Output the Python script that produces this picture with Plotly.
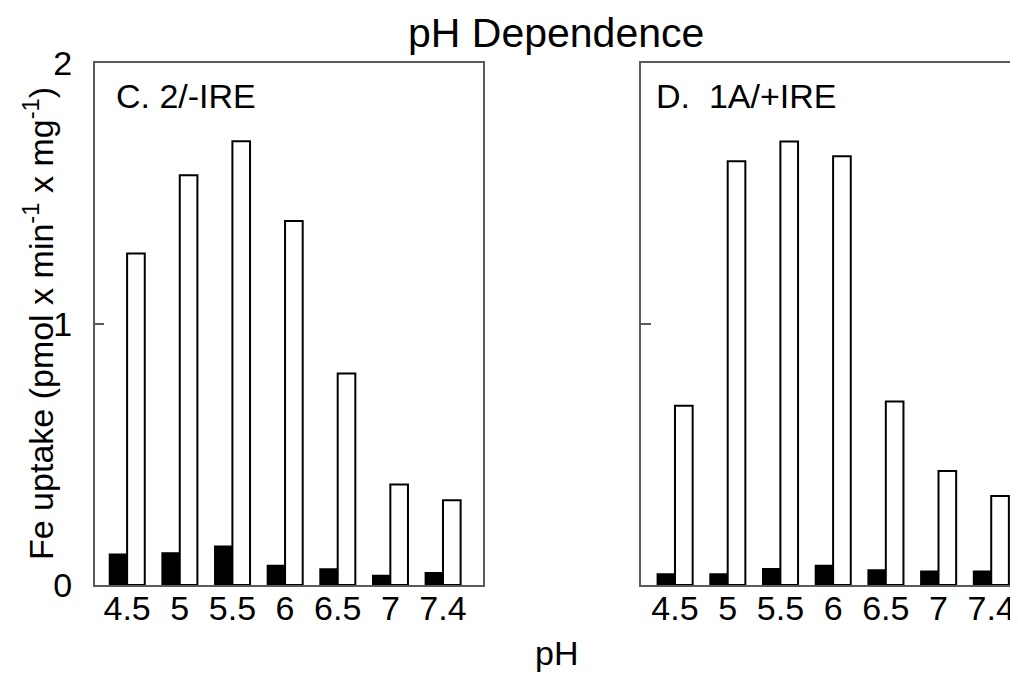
import plotly.graph_objects as go

ph_labels = ["4.5", "5", "5.5", "6", "6.5", "7", "7.4"]
c_black = [0.118, 0.123, 0.148, 0.075, 0.061, 0.036, 0.047]
c_white = [1.27, 1.57, 1.70, 1.395, 0.81, 0.385, 0.325]
d_black = [0.042, 0.042, 0.062, 0.075, 0.057, 0.053, 0.053]
d_white = [0.687, 1.624, 1.699, 1.643, 0.703, 0.437, 0.341]

FONT = "Liberation Sans, Arial, sans-serif"
W, H = 1018, 675
L, R, T, B = 87, 0, 55, 98
PW = W - L - R
PH = H - T - B

def px_x(px):
    return (px - L) / PW

def px_y(py):
    return (H - B - py) / PH

idx = list(range(len(ph_labels)))
bw = 0.335

fig = go.Figure()
for xa, ya, blk, wht in [("x", "y", c_black, c_white), ("x2", "y2", d_black, d_white)]:
    fig.add_trace(go.Bar(x=idx, y=blk, xaxis=xa, yaxis=ya, width=bw, offset=-bw,
                         marker=dict(color="black", line=dict(color="black", width=1.5)),
                         showlegend=False, hoverinfo="skip"))
    fig.add_trace(go.Bar(x=idx, y=wht, xaxis=xa, yaxis=ya, width=bw, offset=0,
                         marker=dict(color="white", line=dict(color="black", width=2)),
                         showlegend=False, hoverinfo="skip"))

axis_line = dict(showline=True, linecolor="#5a5a5a", linewidth=2, showgrid=False, zeroline=False)
tickfont = dict(family=FONT, size=34, color="black")

fig.update_layout(
    width=W, height=H,
    margin=dict(l=L, r=R, t=T, b=B),
    plot_bgcolor="white", paper_bgcolor="white",
    barmode="overlay",
    xaxis=dict(domain=[0, px_x(475)], range=[-0.61, 6.76], tickvals=idx, ticktext=ph_labels,
               ticks="", tickfont=tickfont, mirror=True, anchor="y", ticklabelstandoff=-8, **axis_line),
    yaxis=dict(domain=[0, 1], range=[0, 2], tickvals=[0, 1, 2], ticks="inside", ticklen=9,
               tickcolor="#5a5a5a", tickwidth=2, tickfont=tickfont, mirror=True, anchor="x",
               ticklabelstandoff=14, **axis_line),
    xaxis2=dict(domain=[px_x(633), 1], range=[-0.645, 6.66], tickvals=idx, ticktext=ph_labels,
                ticks="", tickfont=tickfont, mirror="allticks", anchor="y2", ticklabelstandoff=-8, **axis_line),
    yaxis2=dict(domain=[0, 1], range=[0, 2], tickvals=[1], ticks="inside", ticklen=10,
                tickcolor="#5a5a5a", tickwidth=2, showticklabels=False, mirror=False, anchor="x2",
                **axis_line),
    annotations=[
        dict(text="pH Dependence", x=px_x(548), y=px_y(1), xref="paper", yref="paper",
             xanchor="center", yanchor="top", showarrow=False, borderpad=0,
             font=dict(family=FONT, size=41, color="black")),
        dict(text="pH", x=px_x(548), y=px_y(645), xref="paper", yref="paper",
             xanchor="center", yanchor="middle", showarrow=False,
             font=dict(family=FONT, size=34, color="black")),
        dict(text="Fe uptake (pmol x min<sup>-1</sup> x mg<sup>-1</sup>)", x=px_x(30), y=px_y(316),
             xref="paper", yref="paper", xanchor="center", yanchor="middle", textangle=-90,
             showarrow=False, font=dict(family=FONT, size=34, color="black")),
        dict(text="C. 2/-IRE", x=px_x(106), y=px_y(88), xref="paper", yref="paper",
             xanchor="left", yanchor="middle", showarrow=False,
             font=dict(family=FONT, size=34, color="black")),
        dict(text="D.\u00a0 1A/+IRE", x=px_x(646), y=px_y(88), xref="paper", yref="paper",
             xanchor="left", yanchor="middle", showarrow=False,
             font=dict(family=FONT, size=34, color="black")),
    ],
)

fig.write_html("out.html")
